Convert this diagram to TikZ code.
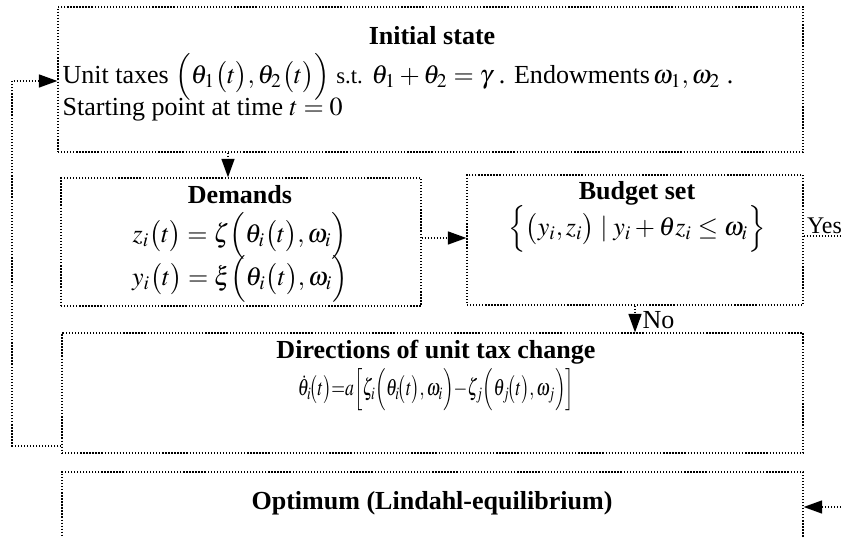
\documentclass[tikz,border=0pt]{standalone}
\usepackage{amsmath,amssymb}
\usepackage{mathptmx}
\usepackage{fontspec}
\setmainfont{Liberation Serif}
\usetikzlibrary{arrows.meta,positioning,calc,fit}

\begin{document}
\begin{tikzpicture}[
  x=0.0162cm, y=-0.0162cm,
  >={Triangle[length=8.5pt,width=6pt]},
  dots/.style={line width=0.6pt,dash pattern=on 0.6pt off 0.8pt},
  box/.style={dots,draw,rectangle,inner sep=0pt},
  ttl/.style={font=\fontsize{12}{14}\selectfont\bfseries,inner sep=1pt},
  txt/.style={font=\fontsize{12}{14}\selectfont,inner sep=1pt},
  link/.style={dots,->}
]
\clip (0,0) rectangle (841,537);

% frames of the five stages
\node[box,fit={(58,7)(803,152)}] (init) {};
\node[box,fit={(61,178)(421,306)}] (dem) {};
\node[box,fit={(467,175)(803,305)}] (bud) {};
\node[box,fit={(62,333)(803,453)}] (dir) {};
\node[box,fit={(62,472)(803,570)}] (opt) {};

% initial state
\node[ttl] (initT) at (432,36) {Initial state};
\node[txt,anchor=west] (initA) at (60,77) {Unit taxes $\Bigl(\theta_1\bigl(t\bigr),\theta_2\bigl(t\bigr)\Bigr)$ {\fontsize{10.5}{12}\selectfont s.t.} $\theta_1+\theta_2=\gamma$ . Endowments$\,\omega_1,\omega_2$ .};
\node[txt,anchor=west] (initB) at (60,110) {Starting point at time $t=0$};

% demands
\node[ttl] (demT) at (240,195) {Demands};
\node[txt] (demZ) at (240,236) {$z_i\bigl(t\bigr)=\zeta\Bigl(\theta_i\bigl(t\bigr),\omega_i\Bigr)$};
\node[txt] (demY) at (240,279) {$y_i\bigl(t\bigr)=\xi\Bigl(\theta_i\bigl(t\bigr),\omega_i\Bigr)$};

% budget set
\node[ttl] (budT) at (637,193) {Budget set};
\node[txt] (budS) at (637,229) {$\Bigl\{\bigl(y_i,z_i\bigr)\mid y_i+\theta z_i\le\omega_i\Bigr\}$};

% tax adjustment
\node[ttl] (dirT) at (436,352) {Directions of unit tax change};
\node[txt] (dirF) at (436,390) {\scalebox{0.68}[0.9]{$\dot{\theta}_i\!\bigl(t\bigr){=}a\Bigl[\zeta_i\Bigl(\theta_i\!\bigl(t\bigr),\omega_i\Bigr){-}\zeta_j\Bigl(\theta_j\!\bigl(t\bigr),\omega_j\Bigr)\Bigr]$}};

% optimum
\node[ttl] (optT) at (432,503) {Optimum (Lindahl-equilibrium)};

% connectors
\coordinate (a1) at (228,0);
\draw[link] (a1 |- init.south) -- (a1 |- dem.north);
\coordinate (a2) at (0,238);
\draw[link] (dem.east |- a2) -- (bud.west |- a2);
\coordinate (yesE) at (841,236);
\draw[dots] (bud.east |- yesE) -- (yesE);
\node[txt,font=\fontsize{11}{12}\selectfont,anchor=base west,inner sep=0pt] (yes) at ($(bud.east |- yesE)+(3,-2)$) {Yes};
\coordinate (a3) at (635,0);
\draw[link] (a3 |- bud.south) -- (a3 |- dir.north);
\node[txt,anchor=west] (no) at (640,320) {No};
\coordinate (fbL) at (12,446);
\coordinate (fbT) at (12,81);
\draw[link] (dir.west |- fbL) -- (fbL) -- (fbT) -- (init.west |- fbT);
\coordinate (optR) at (841,507);
\draw[link] (optR) -- (opt.east |- optR);

\end{tikzpicture}
\end{document}
